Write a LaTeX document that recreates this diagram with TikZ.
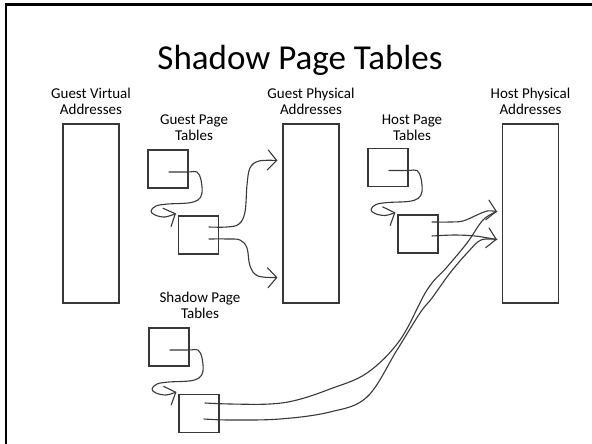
\documentclass[tikz,border=0pt]{standalone}
\usepackage{fontspec}
\setmainfont{Carlito}
\usetikzlibrary{arrows.meta}
\begin{document}
\begin{tikzpicture}[x=1pt,y=-1pt,
  ink/.style={draw=black!78, line width=1.1pt},
  tall/.style={ink, minimum width=56pt, minimum height=179pt, inner sep=0pt},
  ptbox/.style={ink, minimum width=40pt, minimum height=38pt, inner sep=0pt},
  lbl/.style={font=\fontsize{15}{15.5}\selectfont, align=center, anchor=base, inner sep=0pt},
  link/.style={draw=black!78, line width=1.1pt, line cap=round, line join=round,
    -{Straight Barb[length=9pt,width=20pt,line cap=round]}},
  plain/.style={draw=black!78, line width=1.1pt, line cap=round, line join=round}
]
\useasboundingbox (0,0) rectangle (592,444);

% slide frame (top and left edges)
\draw[line width=2.5pt] (5.8,444) -- (5.8,4.5) -- (592,4.5);

% title
\node[font=\fontsize{35}{40}\selectfont, anchor=base, inner sep=0pt] (title) at (300,70) {Shadow Page Tables};

% address spaces (label anchors sit on the baseline of the last line)
\node[tall] (gva) at (91,213.5) {};
\node[tall] (gpa) at (311,213.5) {};
\node[tall] (hpa) at (530.5,213.5) {};
\node[lbl] (gvaL) at (91,114) {Guest Virtual\\Addresses};
\node[lbl] (gpaL) at (311,114) {Guest Physical\\Addresses};
\node[lbl] (hpaL) at (530.5,114) {Host Physical\\Addresses};

% page tables
\node[ptbox] (gpt1) at (168,169) {};
\node[ptbox] (gpt2) at (198.5,235) {};
\node[ptbox] (hpt1) at (388,167.5) {};
\node[ptbox] (hpt2) at (418,234) {};
\node[ptbox] (spt1) at (169,347) {};
\node[ptbox] (spt2) at (199,413.5) {};
\node[lbl] (gptL) at (194,140) {Guest Page\\Tables};
\node[lbl] (hptL) at (412,140) {Host Page\\Tables};
\node[lbl] (sptL) at (200,318) {Shadow Page\\Tables};

% first-level table entry looping down to the second-level table
\newcommand\tableloop[2]{%
  \begin{scope}[shift={(#1.center)}]
    \draw[link] plot[smooth,tension=0.6] coordinates {
      ([shift={(1,3)}]#1.center) (20,3) (29,3) (33,11) (34,24) (30,31) (20,34)
      (0,35) (-12,37) (-17,42) (-13,46) (-3,48) ([shift={(-2,-2)}]#2.north west)};
  \end{scope}}
\tableloop{gpt1}{gpt2}
\tableloop{hpt1}{hpt2}
\tableloop{spt1}{spt2}

% guest page table entries into guest physical memory
\draw[link] plot[smooth,tension=0.6] coordinates {([shift={(10.5,-8)}]gpt2.center)
  (227,227) (239,224) (245,212) (247,185) (250,168) (259,161) ([shift={(-5,-53)}]gpa.west)};
\draw[link] plot[smooth,tension=0.6] coordinates {([shift={(10.5,4)}]gpt2.center)
  (227,239) (240,240) (247,248) (250,266) (258,276) ([shift={(-5,64)}]gpa.west)};

% host page table entries into host physical memory
\draw[link] plot[smooth,tension=0.6] coordinates {([shift={(14,-12)}]hpt2.center)
  (450,222) (463,221) (477,215) (487,211) ([shift={(-5,-2)}]hpa.west)};
\draw[link] plot[smooth,tension=0.6] coordinates {([shift={(14,2)}]hpt2.center)
  (455,235) (475,236) (488,238) ([shift={(-5,26)}]hpa.west)};

% shadow page table entries straight into host physical memory
\draw[plain] plot[smooth,tension=0.6] coordinates {([shift={(6,-10.5)}]spt2.center)
  (230,404) (270,404) (297,400) (330,389) (367,373) (400,340) (427,290) (447,267)
  (467,243) (483,220) ([shift={(-5,-2)}]hpa.west)};
\draw[plain] plot[smooth,tension=0.6] coordinates {([shift={(5,5.5)}]spt2.center)
  (230,420) (280,419) (330,412) (367,397) (397,350) (420,313) (432,298) (450,273)
  (468,252) (481,240) ([shift={(-5,26)}]hpa.west)};
\end{tikzpicture}
\end{document}
